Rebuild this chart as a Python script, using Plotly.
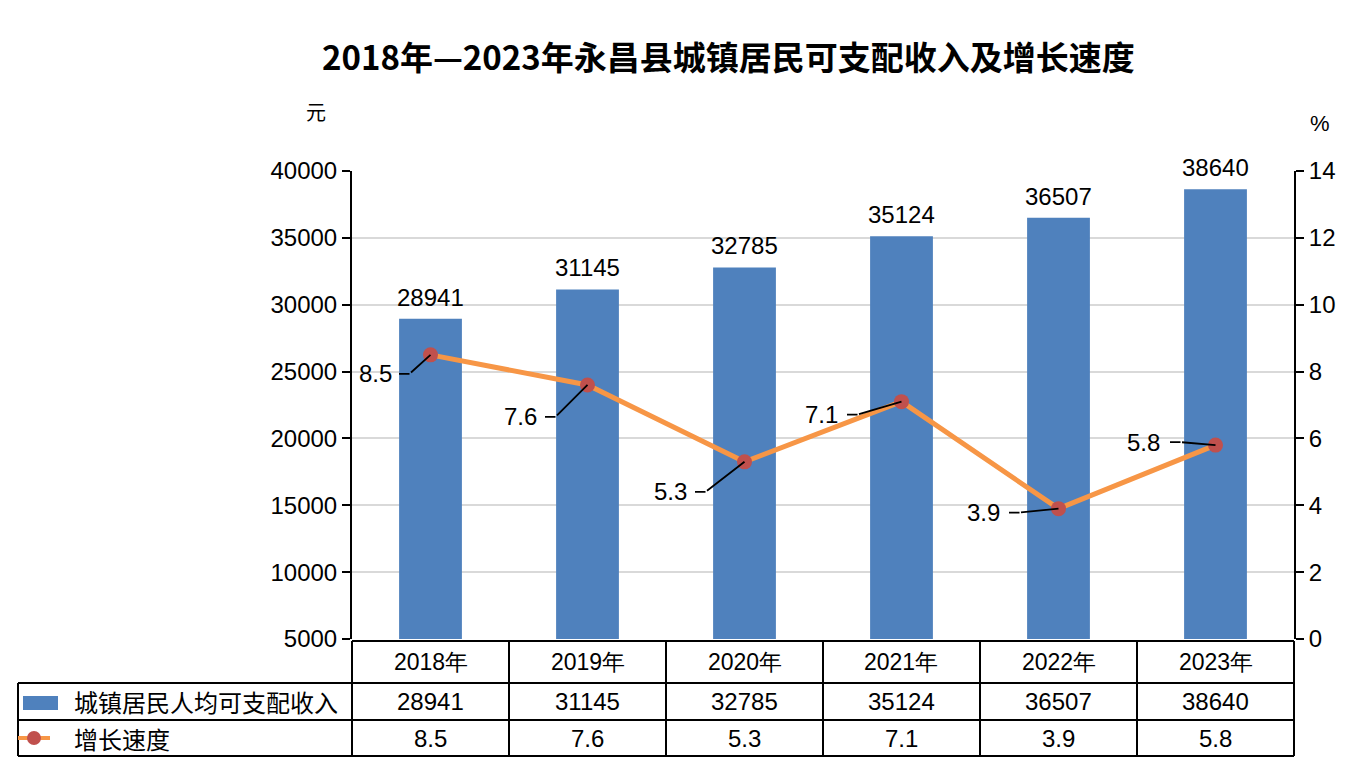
import plotly.graph_objects as go

years = ["2018年", "2019年", "2020年", "2021年", "2022年", "2023年"]
income = [28941, 31145, 32785, 35124, 36507, 38640]
growth = [8.5, 7.6, 5.3, 7.1, 3.9, 5.8]
income_name = "城镇居民人均可支配收入"
growth_name = "增长速度"
# leader line elbow (px, relative to the point, y down) and text centre x offset
elbow_dx = [-21, -32, -39, -44, -39, -35]
elbow_dy = [19, 32, 30, 13, 4, -3]
text_dx = [-55, -67, -74, -80, -75, -72]

W, H = 1350, 769
OFF = 8   # the page body adds an 8px margin, pixel positions below are screen positions
BLUE = "#4F81BD"
ORANGE = "#F79646"
RED = "#C0504D"
FONT = "Arial, Liberation Sans, sans-serif"
CJK = "Noto Sans CJK SC"


def px(x):
    return (x - OFF) / W


def py(y):
    return 1 - (y - OFF) / H


x0, x1 = 352, 1294   # plot area, pixels
y0, y1 = 171, 639

fig = go.Figure()
fig.add_trace(go.Bar(
    x=years, y=income, name=income_name, marker_color=BLUE, marker_line_width=0,
))
fig.add_trace(go.Scatter(
    x=years, y=growth, name=growth_name, yaxis="y2", mode="lines+markers",
    line=dict(color=ORANGE, width=5),
    marker=dict(color=RED, size=15),
))

annotations = []
for yr, v in zip(years, income):
    annotations.append(dict(
        x=yr, y=v, xref="x", yref="y", text=str(v), showarrow=False,
        yanchor="bottom", yshift=6, font=dict(size=24, color="black", family=FONT),
    ))

# growth labels with bent leader lines
lead = dict(showarrow=True, arrowhead=0, arrowwidth=1.8, arrowcolor="black",
            standoff=0, startstandoff=0, text="")
for yr, g, ex, ey, tx in zip(years, growth, elbow_dx, elbow_dy, text_dx):
    annotations.append(dict(x=yr, y=g, xref="x", yref="y2", ax=ex, ay=ey, **lead))
    annotations.append(dict(x=yr, y=g, xref="x", yref="y2", xshift=ex, yshift=-ey,
                            ax=-12, ay=0, **lead))
    annotations.append(dict(x=yr, y=g, xref="x", yref="y2", xshift=tx, yshift=-ey,
                            text=str(g), showarrow=False, xanchor="center",
                            yanchor="middle",
                            font=dict(size=24, color="black", family=FONT)))


def note(x, y, text, size, family=FONT, anchor="center"):
    annotations.append(dict(x=px(x), y=py(y), xref="paper", yref="paper", text=text,
                            xanchor=anchor, yanchor="middle", showarrow=False,
                            font=dict(size=size, color="black", family=family)))


# title and units
note(728, 56, "<b>2018年—2023年永昌县城镇居民可支配收入及增长速度</b>", 33, CJK)
note(316, 111, "元", 20, CJK)
note(1320, 123, "%", 22)

# data table under the chart
shapes = []
cw = (x1 - x0) / len(years)
r0, r1, r2, r3 = 641, 683, 720, 756
line = dict(color="black", width=2)
shapes.append(dict(type="line", xref="paper", yref="paper", x0=px(x0), x1=px(x1),
                   y0=py(r0), y1=py(r0), line=line))
for r in (r1, r2, r3):
    shapes.append(dict(type="line", xref="paper", yref="paper", x0=px(18), x1=px(x1),
                       y0=py(r), y1=py(r), line=line))
shapes.append(dict(type="line", xref="paper", yref="paper", x0=px(18), x1=px(18),
                   y0=py(r1), y1=py(r3), line=line))
for i in range(len(years) + 1):
    xx = x0 + i * cw
    shapes.append(dict(type="line", xref="paper", yref="paper", x0=px(xx), x1=px(xx),
                       y0=py(r0), y1=py(r3), line=line))

for i, (yr, v, g) in enumerate(zip(years, income, growth)):
    cx = x0 + (i + 0.5) * cw
    note(cx, (r0 + r1) / 2, yr, 23)
    note(cx, (r1 + r2) / 2, str(v), 24)
    note(cx, (r2 + r3) / 2, str(g), 24)

# legend keys inside the table
shapes.append(dict(type="rect", xref="paper", yref="paper", x0=px(23), x1=px(58),
                   y0=py(696), y1=py(710), fillcolor=BLUE, line=dict(width=0)))
shapes.append(dict(type="line", xref="paper", yref="paper", x0=px(18), x1=px(50),
                   y0=py(738), y1=py(738), line=dict(color=ORANGE, width=4)))
shapes.append(dict(type="circle", xref="paper", yref="paper", x0=px(27), x1=px(41),
                   y0=py(731), y1=py(745), fillcolor=RED, line=dict(width=0)))
note(72, 701, income_name, 24, CJK, "left")
note(72, 738, growth_name, 24, CJK, "left")

fig.update_layout(
    width=W, height=H, margin=dict(l=0, r=0, t=0, b=0, autoexpand=False),
    paper_bgcolor="white", plot_bgcolor="white",
    showlegend=False, bargap=0.6,
    xaxis=dict(domain=[px(x0), px(x1)], showticklabels=False, ticks="",
               showline=False, showgrid=False),
    yaxis=dict(domain=[py(y1), py(y0)], range=[5000, 40000], dtick=5000,
               tickformat="d", automargin=False,
               showline=True, linecolor="black", linewidth=2,
               ticks="outside", ticklen=8, tickwidth=2, tickcolor="black",
               gridcolor="#D9D9D9", gridwidth=2, zeroline=False,
               tickfont=dict(size=24, color="black", family=FONT)),
    yaxis2=dict(overlaying="y", side="right", anchor="x", range=[0, 14], dtick=2,
                automargin=False,
                showline=True, linecolor="black", linewidth=2,
                ticks="outside", ticklen=8, tickwidth=2, tickcolor="black",
                showgrid=False, zeroline=False,
                tickfont=dict(size=24, color="black", family=FONT)),
    annotations=annotations, shapes=shapes,
)

fig.write_html("out.html")
